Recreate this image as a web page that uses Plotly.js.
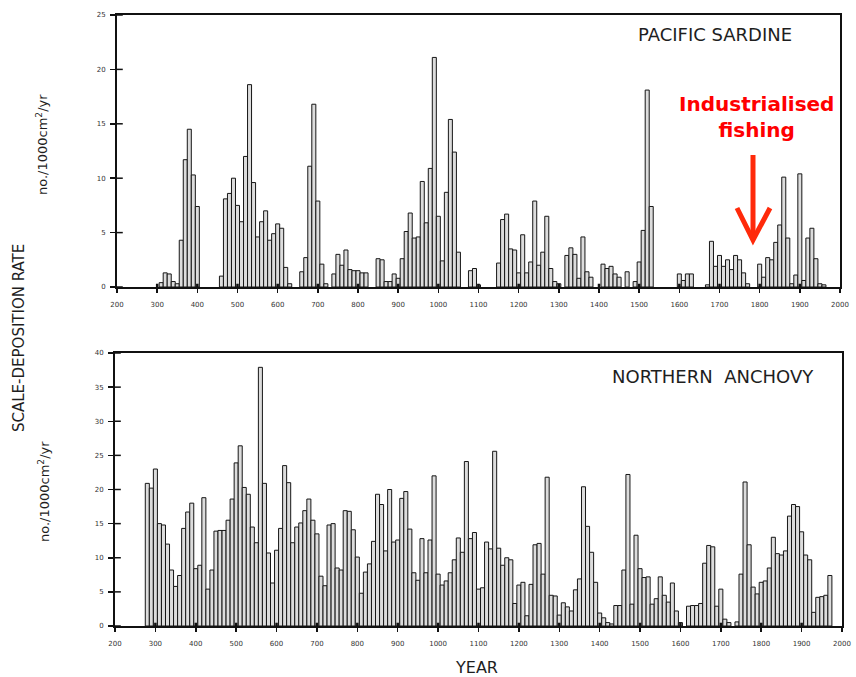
<!DOCTYPE html>
<html>
<head>
<meta charset="utf-8">
<script src="https://cdn.plot.ly/plotly-3.0.1.min.js"></script>
<style>html,body{margin:0;padding:0;background:#fff;}#chart{width:856px;height:677px;}</style>
</head>
<body>
<div id="chart"></div>
<script>
// ---- Pacific sardine: scale-deposition rate (no./1000cm2/yr), decade bins ----
const sardineYears = [310,320,330,340,350,360,370,380,390,400,
  460,470,480,490,500,510,520,530,540,550,560,570,580,590,600,610,620,630,
  660,670,680,690,700,710,720,
  740,750,760,770,780,790,800,810,820,850,860,870,880,890,900,
  910,920,930,940,950,960,970,980,990,1000,1010,1020,1030,1040,1050,
  1080,1090,1100,
  1150,1160,1170,1180,1190,1200,1210,1220,1230,1240,1250,1260,1270,1280,1290,1300,
  1320,1330,1340,1350,1360,1370,1380,
  1410,1420,1430,1440,1450,1470,1490,1500,1510,1520,1530,
  1600,1610,1620,1630,
  1670,1680,1690,1700,1710,1720,1730,1740,1750,1760,1770,
  1800,1810,1820,1830,1840,1850,1860,1870,1880,1890,1900,1910,1920,1930,1940,1950,1960];
const sardineRate = [0.4,1.3,1.2,0.5,0.3,4.3,11.7,14.5,10.3,7.4,
  1.0,8.1,8.6,10.0,7.5,6.0,12.0,18.6,9.6,4.6,6.0,7.0,4.3,4.9,5.8,5.4,1.8,0.3,
  1.4,2.7,11.1,16.8,7.9,2.1,0.3,
  1.2,3.0,2.0,3.4,1.6,1.5,1.5,1.3,1.3,2.6,2.5,0.5,0.5,1.2,0.8,
  2.6,5.1,6.8,4.5,4.6,9.7,5.9,10.9,21.1,6.5,2.4,8.7,15.4,12.4,3.2,
  1.5,1.7,0.2,
  2.2,6.2,6.7,3.5,3.4,1.3,4.8,1.3,2.3,7.9,2.0,3.2,6.5,1.7,0.5,0.3,
  2.9,3.6,3.0,0.8,4.6,1.4,0.9,
  2.1,1.7,1.9,1.2,0.9,1.4,0.5,2.3,5.2,18.1,7.4,
  1.2,0.6,1.2,1.2,
  0.2,4.2,1.9,2.9,1.9,2.5,1.6,2.9,2.5,1.3,0.3,
  2.1,0.9,2.7,2.5,4.1,5.7,10.1,4.5,0.3,1.1,10.4,0.6,4.5,5.4,2.6,0.3,0.2];

// ---- Northern anchovy ----
const anchovyYears = [280,290,300,310,320,330,340,350,360,370,380,390,400,410,420,430,440,450,460,470,
  480,490,500,510,520,530,540,550,560,570,580,590,600,610,620,630,640,650,660,670,
  680,690,700,710,720,730,740,750,760,770,780,790,800,810,820,830,840,850,860,870,
  880,890,900,910,920,930,940,950,960,970,980,990,1000,1010,1020,1030,1040,1050,1060,1070,
  1080,1090,1100,1110,1120,1130,1140,1150,1160,1170,1180,1190,1200,1210,1220,1230,1240,1250,1260,1270,
  1280,1290,1300,1310,1320,1330,1340,1350,1360,1370,1380,1390,1400,1410,1420,1430,1440,1450,1460,1470,
  1480,1490,1500,1510,1520,1530,1540,1550,1560,1570,1580,1590,1600,1620,1630,1640,1650,1660,1670,1680,
  1690,1700,1710,1720,1740,1750,1760,1770,1780,1790,1800,1810,1820,1830,1840,1850,1860,1870,1880,1890,
  1900,1910,1920,1930,1940,1950,1960,1970];
const anchovyRate = [20.9,20.2,23.0,15.0,14.8,12.0,8.2,5.8,7.4,14.3,16.7,18.0,8.4,8.9,18.8,5.4,8.2,13.9,14.0,14.0,
  15.5,18.6,23.9,26.4,20.3,19.3,14.5,12.2,37.9,20.9,10.7,6.3,11.1,14.3,23.5,21.0,12.2,14.5,15.1,16.9,
  18.6,15.5,13.5,7.3,5.9,14.8,15.0,8.5,8.2,16.9,16.8,14.1,10.1,4.8,7.9,9.1,12.4,19.3,17.8,11.0,
  20.0,12.3,12.6,18.7,19.7,14.2,7.8,6.7,12.8,7.8,12.6,22.0,7.6,6.0,6.6,7.8,9.7,12.9,10.8,24.1,
  12.8,13.7,5.4,5.6,12.3,11.3,25.6,11.4,8.9,10.0,9.7,3.3,6.0,6.4,1.5,6.1,11.9,12.1,7.6,21.8,
  4.5,4.4,1.6,3.4,2.8,2.2,5.3,6.9,20.4,14.6,10.8,6.4,1.9,1.2,0.5,0.3,3.0,3.0,8.2,22.2,
  3.2,13.3,8.4,7.1,7.2,3.2,4.0,7.2,4.5,3.5,6.3,2.2,0.5,2.9,3.0,3.0,3.3,9.2,11.8,11.6,
  2.9,5.4,1.0,0.5,0.6,7.6,21.1,11.9,5.7,4.7,6.4,6.6,8.5,13.0,10.6,10.4,11.0,16.1,17.8,17.5,
  13.8,10.4,9.7,2.0,4.2,4.3,4.5,7.4];

// ---- tick labels ----
const yearTicks = [200,300,400,500,600,700,800,900,1000,1100,1200,1300,1400,1500,1600,1700,1800,1900,2000];
const sardineTicks = [0,5,10,15,20,25];
const anchovyTicks = [0,5,10,15,20,25,30,35,40];

const W = 856, H = 677;
const px = x => x / W;
const py = y => 1 - y / H;

const barStyle = {color: '#dcdcdc', line: {color: '#161616', width: 1}};
const traces = [
  {type: 'bar', x: sardineYears, y: sardineRate, width: 10, marker: barStyle, xaxis: 'x', yaxis: 'y', hoverinfo: 'x+y'},
  {type: 'bar', x: anchovyYears, y: anchovyRate, width: 10, marker: barStyle, xaxis: 'x2', yaxis: 'y2', hoverinfo: 'x+y'}
];

const tickFont = {family: 'DejaVu Sans', size: 7, color: '#333'};
function xAx(domain, anchor) {
  return {domain: domain, anchor: anchor, range: [200, 2000], tickvals: yearTicks, ticktext: yearTicks.map(String),
    ticks: 'outside', ticklen: 4, tickwidth: 1.5, tickcolor: '#111', showline: true, linewidth: 2, linecolor: '#111',
    mirror: true, showgrid: false, zeroline: false, tickfont: tickFont, ticklabelstandoff: 6, fixedrange: true};
}
function yAx(domain, anchor, top, ticks) {
  return {domain: domain, anchor: anchor, range: [0, top], tickvals: ticks, ticktext: ticks.map(String),
    ticks: 'outside', ticklen: 5, tickwidth: 1.5, tickcolor: '#111', showline: true, linewidth: 2, linecolor: '#111',
    mirror: true, showgrid: false, zeroline: false, tickfont: tickFont, ticklabelstandoff: 3, fixedrange: true};
}

const shapes = [];
// inner half of the crossing y ticks
[['y', 'x domain', sardineTicks], ['y2', 'x2 domain', anchovyTicks]].forEach(([yr, xr, tv]) => {
  tv.forEach(v => shapes.push({type: 'line', xref: xr, yref: yr, x0: 0, x1: 0.008, y0: v, y1: v,
    line: {color: '#111', width: 1.5}}));
});
// dark marks on the baseline at each century
[['x', 'y domain'], ['x2', 'y2 domain']].forEach(([xr, yr]) => {
  yearTicks.slice(1, -1).forEach(v => shapes.push({type: 'line', xref: xr, yref: yr, x0: v, x1: v, y0: 0, y1: 0.012,
    line: {color: '#111', width: 2.5}}));
});
// red arrow
const arrowColor = '#ff2a0a';
shapes.push({type: 'line', xref: 'paper', yref: 'paper', x0: px(753), x1: px(753), y0: py(155), y1: py(236),
  line: {color: arrowColor, width: 5}});
shapes.push({type: 'path', xref: 'paper', yref: 'paper',
  path: `M${px(737)},${py(208)} L${px(753)},${py(240)} L${px(770)},${py(208)}`,
  line: {color: arrowColor, width: 5}});

const labelFont = {family: 'DejaVu Sans', size: 18, color: '#1e1e1e'};
function note(text, x, y, font, angle) {
  return {text: text, xref: 'paper', yref: 'paper', x: px(x), y: py(y), xanchor: 'center', yanchor: 'middle',
    showarrow: false, font: font, textangle: angle || 0};
}
const annotations = [
  note('PACIFIC SARDINE', 715, 35, labelFont),
  note('NORTHERN\u00a0\u00a0ANCHOVY', 713, 376, labelFont),
  note('YEAR', 476, 667, {family: 'DejaVu Sans', size: 16, color: '#1e1e1e'}),
  note('SCALE-DEPOSITION RATE', 19, 338, {family: 'DejaVu Sans', size: 15, color: '#1e1e1e'}, -90),
  note('no./1000cm<sup>2</sup>/yr', 42, 145, {family: 'DejaVu Sans', size: 13, color: '#1e1e1e'}, -90),
  note('no./1000cm<sup>2</sup>/yr', 44, 492, {family: 'DejaVu Sans', size: 13, color: '#1e1e1e'}, -90),
  note('<b>Industrialised</b><br><b>fishing</b>', 756, 117, {family: 'DejaVu Sans', size: 20, color: '#ff0000'})
];

const layout = {
  width: W, height: H, autosize: false,
  margin: {l: 0, r: 0, t: 0, b: 0},
  paper_bgcolor: '#fff', plot_bgcolor: '#fff',
  showlegend: false, bargap: 0,
  xaxis: xAx([px(117), px(840)], 'y'),
  yaxis: yAx([py(287), py(15)], 'x', 25, sardineTicks),
  xaxis2: xAx([px(115), px(842)], 'y2'),
  yaxis2: yAx([py(626), py(353)], 'x2', 40, anchovyTicks),
  shapes: shapes,
  annotations: annotations
};

Plotly.newPlot('chart', traces, layout, {displayModeBar: false, staticPlot: true});
</script>
</body>
</html>
